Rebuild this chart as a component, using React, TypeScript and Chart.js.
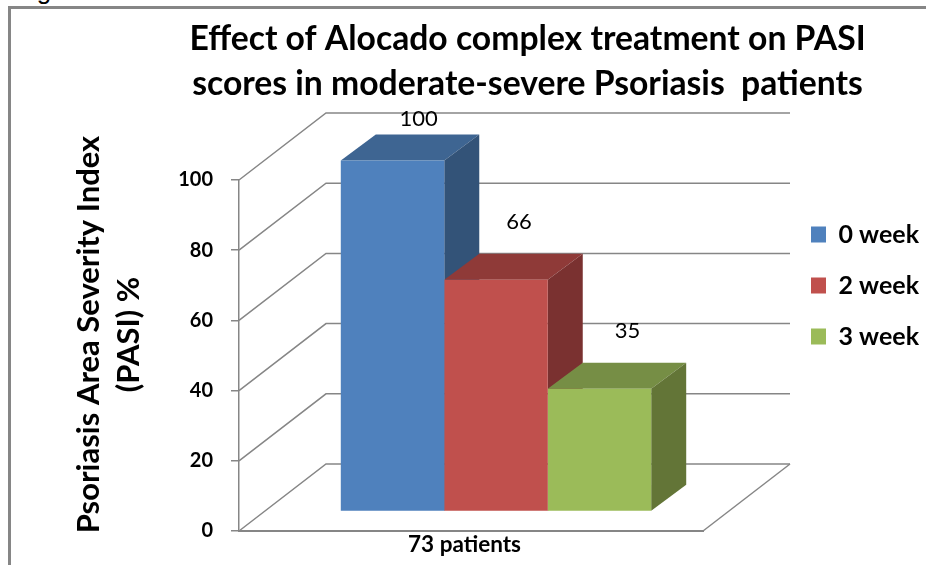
import React, { useEffect, useRef } from "react";
import { Chart, registerables } from "chart.js";

Chart.register(...registerables);

const categories = ["73 patients"];
const seriesNames = ["0 week", "2 week", "3 week"];
const week0 = [100];
const week2 = [66];
const week3 = [35];
const titleLines = [
  "Effect of Alocado complex treatment on PASI",
  "scores in moderate-severe Psoriasis  patients",
];
const yTitleLines = ["Psoriasis Area Severity Index", "(PASI) %"];

const FONT = "Lato, Carlito, 'Open Sans', sans-serif";
const GREY = "#868686";
const front = ["#4F81BD", "#C0504D", "#9BBB59"];
const top3d = ["#3E6592", "#8F3A38", "#768E45"];
const side3d = ["#335378", "#7A3130", "#637537"];

const WALL_DX = 87;
const WALL_DY = -67;
const BAR_SHIFT_X = 25;
const BAR_SHIFT_Y = -19.5;
const BAR_DX = 35;
const BAR_DY = -26;
const labelShiftX = [26, 23, 28];

const box3d = {
  id: "box3d",
  afterLayout(chart: any) {
    const legend = chart.legend;
    const shiftX = 810 - legend.left - 25;
    legend.left += shiftX;
    legend.right += shiftX;
    legend.top += 7;
    legend.bottom += 7;
    chart.titleBlock.left += 98;
    chart.titleBlock.right += 98;
    const y = chart.scales.y;
    if (!y.__patched) {
      y.__patched = true;
      const orig = y.drawTitle.bind(y);
      y.drawTitle = () => {
        chart.ctx.save();
        chart.ctx.translate(0, -21);
        orig();
        chart.ctx.restore();
      };
    }
  },
  beforeDatasetsDraw(chart: any) {
    const { ctx, chartArea: a, scales } = chart;
    ctx.save();
    ctx.strokeStyle = GREY;
    ctx.lineWidth = 1.5;
    scales.y.ticks.forEach((t: any) => {
      const py = scales.y.getPixelForValue(t.value);
      ctx.beginPath();
      ctx.moveTo(a.left, py);
      ctx.lineTo(a.left + WALL_DX, py + WALL_DY);
      ctx.lineTo(a.right + WALL_DX, py + WALL_DY);
      ctx.stroke();
    });
    ctx.beginPath();
    ctx.moveTo(a.right, a.bottom);
    ctx.lineTo(a.right + WALL_DX, a.bottom + WALL_DY);
    ctx.stroke();

    // Top and side faces, back to front, before any front face is painted.
    ctx.translate(BAR_SHIFT_X, BAR_SHIFT_Y);
    chart.data.datasets.forEach((_: any, i: number) => {
      chart.getDatasetMeta(i).data.forEach((el: any) => {
        const { x, y, base, width } = el.getProps(["x", "y", "base", "width"], true);
        const l = x - width / 2;
        const r = x + width / 2;
        ctx.fillStyle = top3d[i];
        ctx.beginPath();
        ctx.moveTo(l, y);
        ctx.lineTo(l + BAR_DX, y + BAR_DY);
        ctx.lineTo(r + BAR_DX, y + BAR_DY);
        ctx.lineTo(r, y);
        ctx.closePath();
        ctx.fill();
        ctx.fillStyle = side3d[i];
        ctx.beginPath();
        ctx.moveTo(r, y);
        ctx.lineTo(r + BAR_DX, y + BAR_DY);
        ctx.lineTo(r + BAR_DX, base + BAR_DY);
        ctx.lineTo(r, base);
        ctx.closePath();
        ctx.fill();
      });
    });
    ctx.restore();
  },
  beforeDatasetDraw(chart: any) {
    chart.ctx.save();
    chart.ctx.translate(BAR_SHIFT_X, BAR_SHIFT_Y);
  },
  afterDatasetDraw(chart: any) {
    chart.ctx.restore();
  },
  afterDatasetsDraw(chart: any) {
    const { ctx, chartArea: a } = chart;
    ctx.save();
    ctx.fillStyle = "#000";
    ctx.font = `22px ${FONT}`;
    ctx.textAlign = "center";
    ctx.textBaseline = "middle";
    chart.data.datasets.forEach((ds: any, i: number) => {
      chart.getDatasetMeta(i).data.forEach((el: any, j: number) => {
        const { x, y } = el.getProps(["x", "y"], true);
        const px = x + BAR_SHIFT_X + labelShiftX[i];
        const py = Math.max(y + BAR_SHIFT_Y - 58, a.top - 61);
        ctx.fillText(String(ds.data[j]), px, py);
      });
    });
    ctx.restore();
  },
};

export default function App() {
  const ref = useRef<HTMLCanvasElement>(null);
  useEffect(() => {
    const chart = new Chart(ref.current as HTMLCanvasElement, {
      type: "bar",
      plugins: [box3d],
      data: {
        labels: categories,
        datasets: [week0, week2, week3].map((data, i) => ({
          label: seriesNames[i],
          data,
          backgroundColor: front[i],
          borderWidth: 0,
          clip: false,
          barPercentage: 1,
          categoryPercentage: 0.669,
        })),
      } as any,
      options: {
        responsive: false,
        animation: false,
        layout: { padding: { left: 12, right: 86, bottom: 8, top: 0 } },
        plugins: {
          tooltip: { enabled: false },
          legend: {
            position: "right",
            onClick: () => {},
            labels: {
              font: { family: FONT, size: 25, weight: "bold" },
              color: "#000",
              boxWidth: 15,
              boxHeight: 16,
              padding: 26,
            },
          },
          title: {
            display: true,
            text: titleLines,
            color: "#000",
            font: { family: FONT, size: 33.7, weight: "bold", lineHeight: 1.335 },
            padding: { top: 16.5, bottom: 73.5 },
          },
        },
        scales: {
          x: {
            grid: { drawOnChartArea: false, drawTicks: false },
            border: { color: GREY, width: 2 },
            ticks: {
              color: "#000",
              padding: 0,
              labelOffset: -6.5,
              font: { family: FONT, size: 22.5, weight: "bold" },
            },
            afterFit: (s: any) => {
              s.height = 26;
            },
          },
          y: {
            min: 0,
            max: 100,
            afterFit: (s: any) => {
              s.width = 227;
            },
            ticks: {
              stepSize: 20,
              color: "#000",
              padding: 18,
              font: { family: FONT, size: 20, weight: "bold" },
            },
            grid: { drawOnChartArea: false, color: GREY, tickLength: 8, lineWidth: 1.5 },
            border: { color: GREY, width: 1.5 },
            title: {
              display: true,
              text: yTitleLines,
              color: "#000",
              padding: { top: 57, bottom: 0 },
              font: { family: FONT, size: 31, weight: "bold", lineHeight: 1.3 },
            },
          },
        },
      },
    } as any);
    return () => chart.destroy();
  }, []);

  return (
    <div style={{ position: "absolute", left: 0, top: 0, width: 933, height: 565, overflow: "hidden", background: "#fff" }}>
      <div style={{ position: "absolute", left: 15, top: -25, font: "26px 'Liberation Sans', sans-serif", color: "#000" }}>Figure 8</div>
      <div style={{ position: "absolute", left: 8, top: 6, width: 915, height: 570, borderTop: `3px solid ${GREY}`, borderLeft: `3px solid ${GREY}` }} />
      <canvas ref={ref} width={933} height={565} style={{ position: "absolute", left: 0, top: 0, width: 933, height: 565, display: "block" }} />
    </div>
  );
}
